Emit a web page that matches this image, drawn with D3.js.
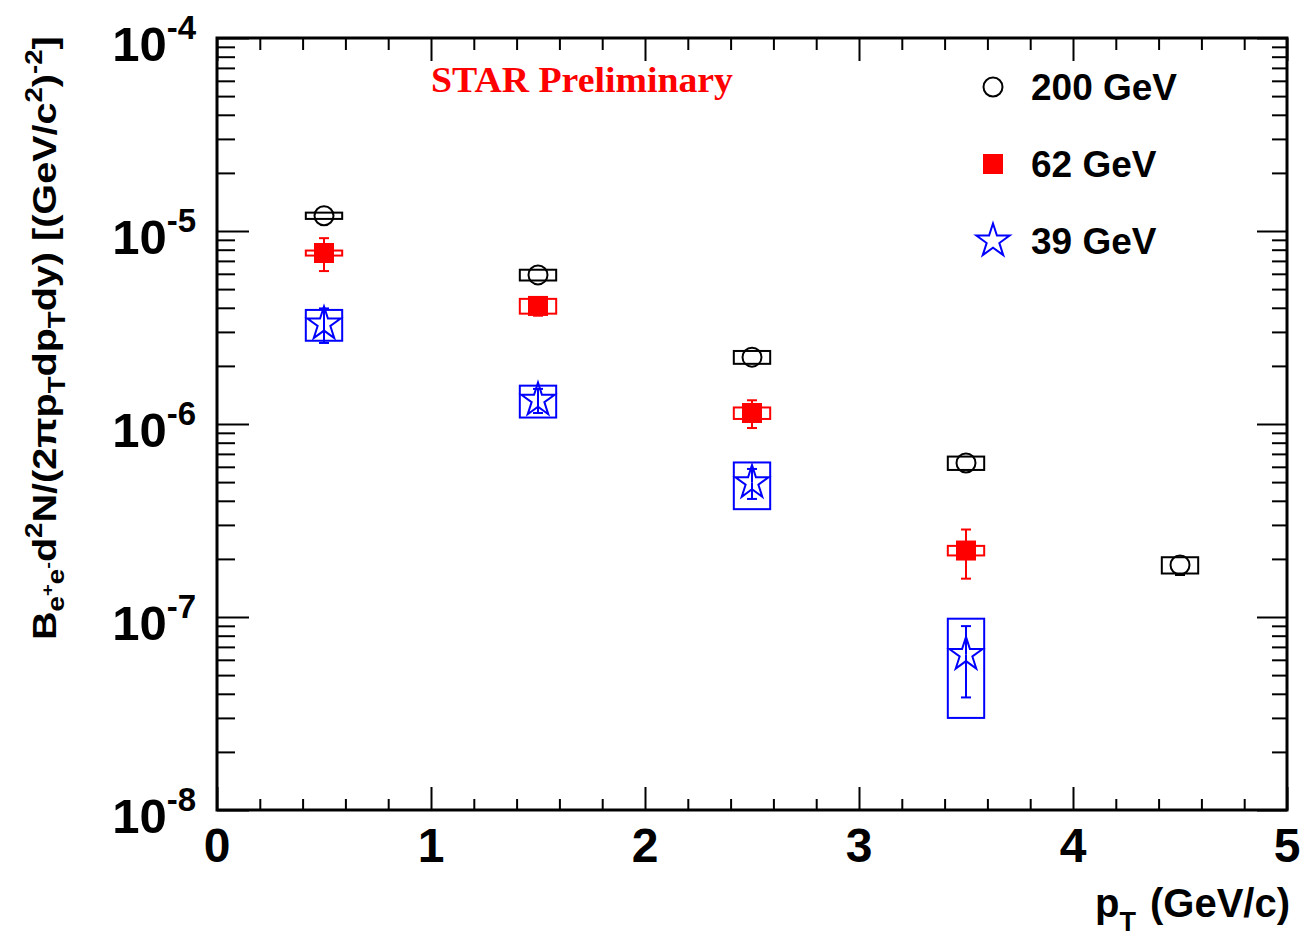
<!DOCTYPE html>
<html>
<head>
<meta charset="utf-8">
<script src="https://cdn.jsdelivr.net/npm/d3@7"></script>
<style>
  html, body { margin: 0; padding: 0; background: #fff; }
  svg { display: block; }
  text { font-family: "Liberation Sans", Arial, Helvetica, sans-serif; font-weight: bold; }
</style>
</head>
<body>
<svg id="chart" width="1313" height="943"></svg>
<script>
// ---- data: electron-pair yields vs pT ----
const ptBins = [0.5, 1.5, 2.5, 3.5, 4.5];

const yield200 = [1.20e-5, 5.92e-6, 2.22e-6, 6.28e-7, 1.86e-7];
const stat200  = [0.15e-6, 0.08e-6, 0.04e-6, 0.15e-7, 0.21e-7];
const sys200   = [0.045e-5, 0.38e-6, 0.17e-6, 0.50e-7, 0.18e-7];

const yield62 = [7.69e-6, 4.09e-6, 1.14e-6, 2.21e-7];
const stat62  = [1.49e-6, 0.45e-6, 0.187e-6, 0.63e-7];
const sys62   = [0.23e-6, 0.36e-6, 0.078e-6, 0.126e-7];

const yield39 = [3.30e-6, 1.33e-6, 4.97e-7, 6.4e-8];
const stat39  = [0.67e-6, 0.19e-6, 0.88e-7, 2.57e-8];
const sys39   = [0.60e-6, 0.25e-6, 1.35e-7, 3.4e-8];

const seriesLabels = ["200 GeV", "62 GeV", "39 GeV"];
const xTickValues = [0, 1, 2, 3, 4, 5];
const yDecadeExponents = [-4, -5, -6, -7, -8];
const sysHalfWidth = 0.085; // half width of systematic boxes, in GeV/c

// ---- layout ----
const svg = d3.select("#chart");
const frame = { left: 217, right: 1287, top: 38, bottom: 810 };

const x = d3.scaleLinear().domain([0, 5]).range([frame.left, frame.right]);
const y = d3.scaleLog().domain([1e-8, 1e-4]).range([frame.bottom, frame.top]);

// ---- axis ticks on all four sides ----
const xMinor = d3.range(0, 26).map(i => i * 0.2).filter(v => Math.abs(v - Math.round(v)) > 1e-6);
const yMajor = yDecadeExponents.map(e => Math.pow(10, e));
const yMinor = [];
for (let e = -8; e < -4; e++) for (let k = 2; k <= 9; k++) yMinor.push(k * Math.pow(10, e));

function styleAxis(g) {
  g.select(".domain").remove();
  g.selectAll(".tick line").attr("stroke", "#000").attr("stroke-width", 2);
  g.selectAll(".tick text").remove();
}

const axes = svg.append("g");
axes.append("g").attr("transform", `translate(0,${frame.bottom})`)
  .call(d3.axisBottom(x).tickValues(xTickValues).tickSizeInner(-23).tickSizeOuter(0)).call(styleAxis);
axes.append("g").attr("transform", `translate(0,${frame.bottom})`)
  .call(d3.axisBottom(x).tickValues(xMinor).tickSizeInner(-11).tickSizeOuter(0)).call(styleAxis);
axes.append("g").attr("transform", `translate(0,${frame.top})`)
  .call(d3.axisTop(x).tickValues(xTickValues).tickSizeInner(-23).tickSizeOuter(0)).call(styleAxis);
axes.append("g").attr("transform", `translate(0,${frame.top})`)
  .call(d3.axisTop(x).tickValues(xMinor).tickSizeInner(-12).tickSizeOuter(0)).call(styleAxis);

axes.append("g").attr("transform", `translate(${frame.left},0)`)
  .call(d3.axisLeft(y).tickValues(yMajor).tickSizeInner(-32).tickSizeOuter(0)).call(styleAxis);
axes.append("g").attr("transform", `translate(${frame.left},0)`)
  .call(d3.axisLeft(y).tickValues(yMinor).tickSizeInner(-18).tickSizeOuter(0)).call(styleAxis);
axes.append("g").attr("transform", `translate(${frame.right},0)`)
  .call(d3.axisRight(y).tickValues(yMajor).tickSizeInner(-30).tickSizeOuter(0)).call(styleAxis);
axes.append("g").attr("transform", `translate(${frame.right},0)`)
  .call(d3.axisRight(y).tickValues(yMinor).tickSizeInner(-15).tickSizeOuter(0)).call(styleAxis);

// frame
svg.append("rect")
  .attr("x", frame.left).attr("y", frame.top)
  .attr("width", frame.right - frame.left).attr("height", frame.bottom - frame.top)
  .attr("fill", "none").attr("stroke", "#000").attr("stroke-width", 3);

// ---- tick labels ----
svg.append("g").selectAll("text").data(xTickValues).join("text")
  .attr("x", d => x(d)).attr("y", 862)
  .attr("text-anchor", "middle").attr("font-size", 48)
  .text(d => d);

const yLab = svg.append("g").selectAll("text").data(yDecadeExponents).join("text")
  .attr("x", 196).attr("y", d => y(Math.pow(10, d)) + 23)
  .attr("text-anchor", "end");
yLab.append("tspan").attr("font-size", 49).text("10");
yLab.append("tspan").attr("font-size", 33).attr("dy", -22).text(d => d);

// ---- axis titles ----
const xt = svg.append("text").attr("x", 1290).attr("y", 917).attr("text-anchor", "end").attr("font-size", 40);
xt.append("tspan").text("p");
xt.append("tspan").attr("font-size", 27).attr("dy", 14).text("T");
xt.append("tspan").attr("dy", -14).attr("dx", 14).text("(GeV/c)");

// y title: drawn along the axis, then stretched to span from the frame top down to y = 640
const ytG = svg.append("g");
const yt = ytG.append("text").attr("x", 0).attr("y", 0).attr("font-size", 33);
const ytParts = [
  ["B", 33, 0], ["e", 23, 8], ["+", 17, -11], ["e", 23, 11], ["-", 17, -11],
  ["d", 33, 3], ["2", 23, -14], ["N/(2\u03C0p", 33, 14], ["T", 23, 9], ["dp", 33, -9],
  ["T", 23, 9], ["dy) [(GeV/c", 33, -9], ["2", 23, -14], [")", 33, 14], ["-2", 23, -14], ["]", 33, 14]
];
ytParts.forEach(([t, fs, dy]) => yt.append("tspan").attr("font-size", fs).attr("dy", dy).text(t));
const ytLen = yt.node().getComputedTextLength();
const ytStretch = (640 - 36) / ytLen;
ytG.attr("transform", `translate(56,640) rotate(-90) scale(${ytStretch},1)`);

// ---- STAR Preliminary label ----
svg.append("text").attr("x", 431).attr("y", 92)
  .style("font-family", "'Liberation Serif', 'Times New Roman', serif")
  .style("font-weight", "bold").attr("font-size", 35).attr("fill", "#ff0000")
  .attr("textLength", 302).attr("lengthAdjust", "spacingAndGlyphs")
  .text("STAR Preliminary");

// ---- series ----
const series = [
  { label: seriesLabels[0], pt: ptBins, val: yield200, stat: stat200, sys: sys200,
    color: "#000000", symbol: d3.symbolCircle, size: Math.PI * 9.5 * 9.5, fill: "none", gap: 9.5 },
  { label: seriesLabels[1], pt: ptBins.slice(0, 4), val: yield62, stat: stat62, sys: sys62,
    color: "#ff0000", symbol: d3.symbolSquare, size: 20 * 20, fill: "#ff0000", gap: 0 },
  { label: seriesLabels[2], pt: ptBins.slice(0, 4), val: yield39, stat: stat39, sys: sys39,
    color: "#0000ff", symbol: d3.symbolStar, size: (17.5 * 17.5) / 0.8908130915292852, fill: "none", gap: 0 }
];

const capHalf = 5;
const plot = svg.append("g");

series.forEach(s => {
  const pts = s.pt.map((p, i) => ({ p, v: s.val[i], st: s.stat[i], sy: s.sys[i] }));
  const g = plot.append("g");

  // systematic boxes
  g.selectAll("rect.sys").data(pts).join("rect").attr("class", "sys")
    .attr("x", d => x(d.p - sysHalfWidth))
    .attr("width", d => x(d.p + sysHalfWidth) - x(d.p - sysHalfWidth))
    .attr("y", d => y(d.v + d.sy))
    .attr("height", d => y(d.v - d.sy) - y(d.v + d.sy))
    .attr("fill", "none").attr("stroke", s.color).attr("stroke-width", 2);

  // statistical error bars with end caps
  pts.forEach(d => {
    const cx = x(d.p), cy = y(d.v);
    const yHi = y(d.v + d.st), yLo = y(d.v - d.st);
    if (cy - yHi > s.gap) {
      g.append("line").attr("x1", cx).attr("x2", cx).attr("y1", cy - s.gap).attr("y2", yHi)
        .attr("stroke", s.color).attr("stroke-width", 2);
      g.append("line").attr("x1", cx - capHalf).attr("x2", cx + capHalf).attr("y1", yHi).attr("y2", yHi)
        .attr("stroke", s.color).attr("stroke-width", 2);
    }
    if (yLo - cy > s.gap) {
      g.append("line").attr("x1", cx).attr("x2", cx).attr("y1", cy + s.gap).attr("y2", yLo)
        .attr("stroke", s.color).attr("stroke-width", 2);
      g.append("line").attr("x1", cx - capHalf).attr("x2", cx + capHalf).attr("y1", yLo).attr("y2", yLo)
        .attr("stroke", s.color).attr("stroke-width", 2);
    }
  });

  // markers
  g.selectAll("path.mk").data(pts).join("path").attr("class", "mk")
    .attr("transform", d => `translate(${x(d.p)},${y(d.v)})`)
    .attr("d", d3.symbol(s.symbol, s.size))
    .attr("fill", s.fill).attr("stroke", s.color)
    .attr("stroke-width", s.fill === "none" ? 2 : 0);
});

// ---- legend ----
const legendRows = [87, 164, 241];
const lg = svg.append("g");
series.forEach((s, i) => {
  lg.append("path")
    .attr("transform", `translate(993,${legendRows[i]})`)
    .attr("d", d3.symbol(s.symbol, s.size))
    .attr("fill", s.fill).attr("stroke", s.color)
    .attr("stroke-width", s.fill === "none" ? 2 : 0);
  lg.append("text").attr("x", 1031).attr("y", legendRows[i] + 13)
    .attr("font-size", 37).text(s.label);
});
</script>
</body>
</html>
